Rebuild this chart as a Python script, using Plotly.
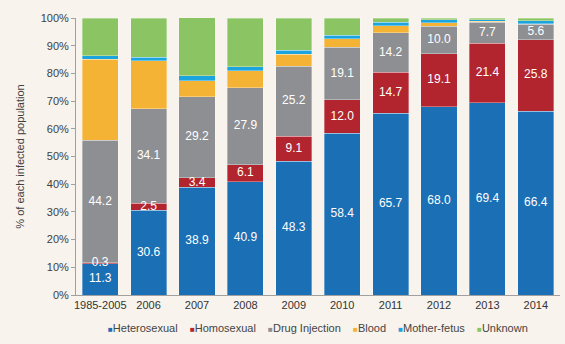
import plotly.graph_objects as go

# Share of newly infected population by transmission route (%)
years = ["1985-2005", "2006", "2007", "2008", "2009", "2010", "2011", "2012", "2013", "2014"]
heterosexual = [11.3, 30.6, 38.9, 40.9, 48.3, 58.4, 65.7, 68.0, 69.4, 66.4]
homosexual = [0.3, 2.5, 3.4, 6.1, 9.1, 12.0, 14.7, 19.1, 21.4, 25.8]
drug_injection = [44.2, 34.1, 29.2, 27.9, 25.2, 19.1, 14.2, 10.0, 7.7, 5.6]
blood = [29.4, 17.3, 5.9, 6.1, 4.4, 3.0, 2.6, 1.2, 0.4, 0.2]
mother_fetus = [1.2, 1.4, 1.8, 1.4, 1.3, 1.3, 1.2, 1.0, 0.5, 1.0]
unknown = [13.6, 14.1, 22.8, 17.6, 11.7, 6.2, 1.6, 0.7, 0.6, 1.0]
y_ticks = list(range(0, 101, 10))
y_tick_labels = [f"{v}%" for v in y_ticks]

series = [
    ("Heterosexual", heterosexual, "#1B6FB5", True),
    ("Homosexual", homosexual, "#B2252F", True),
    ("Drug Injection", drug_injection, "#8E8F93", True),
    ("Blood", blood, "#F5B335", False),
    ("Mother-fetus", mother_fetus, "#1BA4DE", False),
    ("Unknown", unknown, "#8BC563", False),
]

font_family = "Liberation Sans, Arial, sans-serif"

fig = go.Figure()
base = [0.0] * len(years)
label_x, label_y, label_txt = [], [], []
for name, vals, color, labelled in series:
    fig.add_trace(go.Bar(
        x=years,
        y=vals,
        name=name,
        marker=dict(color=color, line=dict(color="rgba(255,255,255,0.55)", width=0.6)),
        hoverinfo="skip",
    ))
    if labelled:
        for i, v in enumerate(vals):
            label_x.append(years[i])
            label_y.append(base[i] + v / 2)
            label_txt.append(f"{v:.1f}")
    base = [b + v for b, v in zip(base, vals)]

# Segment value labels, drawn on top of all bars
fig.add_trace(go.Scatter(
    x=label_x,
    y=label_y,
    text=label_txt,
    mode="text",
    textposition="middle center",
    textfont=dict(color="white", size=12, family=font_family),
    hoverinfo="skip",
    showlegend=False,
))

# Legend row drawn as text with coloured squares
legend_parts = []
for name, _, color, _ in series:
    legend_parts.append(
        f"<span style='color:{color};font-size:8px'>■</span>{name}"
    )
legend_text = "    ".join(legend_parts)

fig.add_annotation(
    text=legend_text,
    xref="paper", yref="paper",
    x=0.5, y=-0.118,
    xanchor="center", yanchor="middle",
    showarrow=False,
    font=dict(size=11, color="#444444", family=font_family),
)

fig.update_layout(
    width=565,
    height=344,
    barmode="stack",
    bargap=0.255,
    showlegend=False,
    paper_bgcolor="#F8F3EC",
    plot_bgcolor="#F8F3EC",
    margin=dict(l=76, r=5, t=18, b=49),
    font=dict(family=font_family, color="#404040", size=11),
    xaxis=dict(
        type="category",
        showline=True,
        linecolor="#A0A0A0",
        linewidth=1,
        ticks="",
        tickangle=0,
        tickfont=dict(size=11, color="#333333"),
        showgrid=False,
    ),
    yaxis=dict(
        range=[0, 100],
        tickvals=y_ticks,
        ticktext=y_tick_labels,
        showline=True,
        linecolor="#A0A0A0",
        linewidth=1,
        ticks="outside",
        ticklen=4,
        tickcolor="#A0A0A0",
        showgrid=False,
        zeroline=False,
        tickfont=dict(size=11, color="#404040"),
        title=dict(text="% of each infected population", font=dict(size=11, color="#404040"), standoff=13),
    ),
)

fig.write_html("out.html")
